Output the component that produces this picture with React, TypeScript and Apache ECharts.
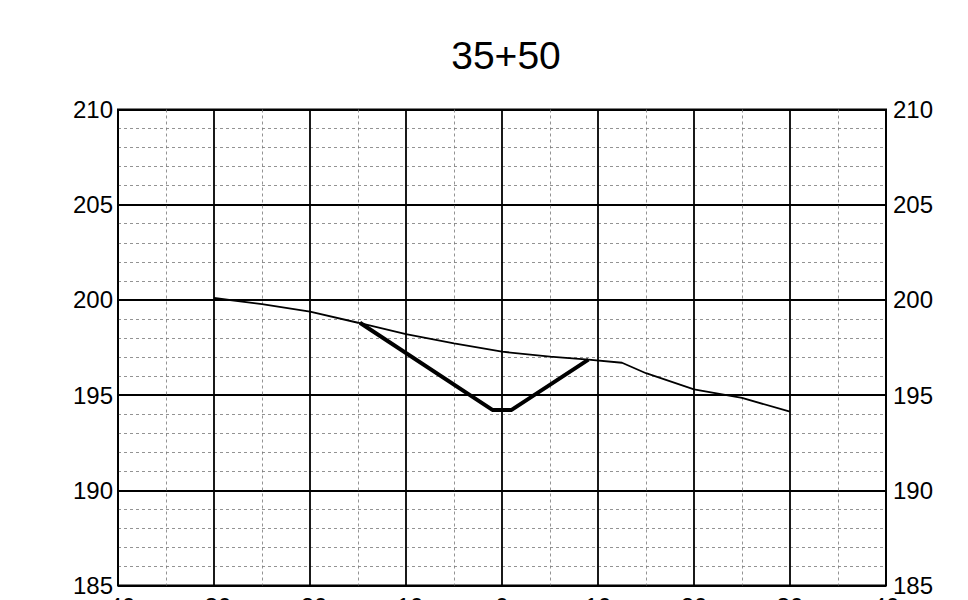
import React, { useEffect, useRef } from "react";
import * as echarts from "echarts";

const titleText = "35+50";
const groundX = [-30, -25, -20, -15, -10, -5, 0, 5, 9, 12.5, 15, 20, 25, 30];
const groundY = [200.1, 199.78, 199.38, 198.8, 198.2, 197.72, 197.28, 197.02, 196.86, 196.7, 196.15, 195.3, 194.85, 194.13];
const designX = [-14.8, -1, 1, 9];
const designY = [198.8, 194.22, 194.22, 196.86];
const xMin = -40, xMax = 40, xStep = 10;
const yMin = 185, yMax = 210, yStep = 5;

const FONT = "'Liberation Sans', Arial, sans-serif";

export default function App() {
  const ref = useRef<HTMLDivElement>(null);
  useEffect(() => {
    if (!ref.current) return;
    const chart = echarts.init(ref.current, null, { renderer: "svg" });
    const minorLine = { show: true, lineStyle: { color: "#777", width: 0.8, type: [3, 3] as any } };
    const majorLine = { show: true, lineStyle: { color: "#000", width: 1.8, type: "solid" as const } };
    const yLabel = { color: "#000", fontSize: 24, fontFamily: FONT };
    chart.setOption({
      animation: false,
      backgroundColor: "#fff",
      title: {
        text: titleText,
        left: 501,
        top: 31,
        textAlign: "center",
        textStyle: { color: "#000", fontSize: 39, fontWeight: "normal", fontFamily: FONT },
      },
      grid: {
        left: 118,
        right: 82,
        top: 109.5,
        bottom: 14.5,
        outerBoundsMode: "none",
        containLabel: false,
        show: true,
        borderColor: "#000",
        borderWidth: 2,
        backgroundColor: "transparent",
      },
      xAxis: {
        type: "value",
        min: xMin,
        max: xMax,
        interval: xStep,
        axisLine: { show: false },
        axisTick: { show: false },
        axisLabel: { color: "#000", fontSize: 24, fontFamily: FONT, margin: 9 },
        splitLine: majorLine,
        minorTick: { show: false, splitNumber: 2 },
        minorSplitLine: minorLine,
      },
      yAxis: [
        {
          type: "value",
          min: yMin,
          max: yMax,
          interval: yStep,
          position: "left",
          axisLine: { show: false },
          axisTick: { show: false },
          axisLabel: { ...yLabel, margin: 5 },
          splitLine: majorLine,
          minorTick: { show: false, splitNumber: 5 },
          minorSplitLine: minorLine,
        },
        {
          type: "value",
          min: yMin,
          max: yMax,
          interval: yStep,
          position: "right",
          axisLine: { show: false },
          axisTick: { show: false },
          axisLabel: { ...yLabel, margin: 7 },
          splitLine: { show: false },
        },
      ],
      series: [
        {
          type: "line",
          data: groundX.map((x, i) => [x, groundY[i]]),
          showSymbol: false,
          lineStyle: { color: "#000", width: 1.8 },
          z: 5,
        },
        {
          type: "line",
          data: designX.map((x, i) => [x, designY[i]]),
          showSymbol: false,
          lineStyle: { color: "#000", width: 4 },
          z: 6,
        },
      ],
    });
    return () => chart.dispose();
  }, []);
  return (
    <div
      ref={ref}
      style={{ position: "fixed", left: 0, top: 0, width: 968, height: 600, background: "#fff" }}
    />
  );
}
